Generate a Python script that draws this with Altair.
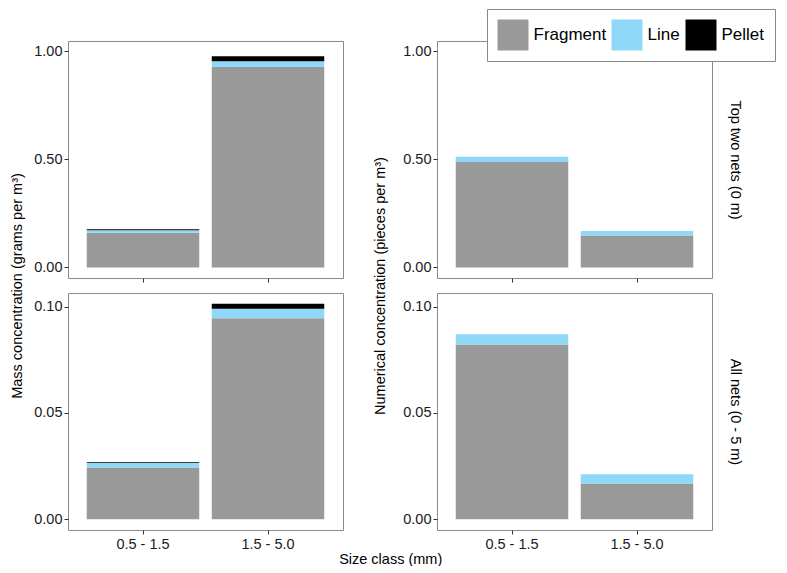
import altair as alt
import pandas as pd

# ---------------- data ----------------
size_classes = ["0.5 - 1.5", "1.5 - 5.0"]
types = ["Fragment", "Line", "Pellet"]
type_colors = ["#999999", "#8FD8FA", "#000000"]

# Mass concentration, top two nets (0 m)
mass_top_fragment = [0.160, 0.927]
mass_top_line = [0.012, 0.026]
mass_top_pellet = [0.005, 0.024]

# Mass concentration, all nets (0 - 5 m)
mass_all_fragment = [0.0243, 0.0946]
mass_all_line = [0.0021, 0.0045]
mass_all_pellet = [0.0004, 0.0023]

# Numerical concentration, top two nets (0 m)
num_top_fragment = [0.488, 0.147]
num_top_line = [0.024, 0.021]
num_top_pellet = [0.0, 0.0]

# Numerical concentration, all nets (0 - 5 m)
num_all_fragment = [0.0822, 0.0168]
num_all_line = [0.0049, 0.0044]
num_all_pellet = [0.0, 0.0]

top_ticks = [0.0, 0.5, 1.0]
bottom_ticks = [0.0, 0.05, 0.10]

row_labels = ["Top two nets (0 m)", "All nets (0 - 5 m)"]
col_titles = ["Mass concentration (grams per m³)",
              "Numerical concentration (pieces per m³)"]
x_title = "Size class (mm)"


def make_df(frag, line, pellet):
    rows = []
    for i, s in enumerate(size_classes):
        for k, (t, vals) in enumerate(zip(types, [frag, line, pellet])):
            rows.append({"size": s, "type": t, "order": k, "value": vals[i]})
    return pd.DataFrame(rows)


W, H = 275, 237
FONT = "Liberation Sans"
FS = 14.5
top_domain = [-0.049, 1.047]
bottom_domain = [-0.0051, 0.1065]

x_scale = alt.Scale(paddingInner=0.1, paddingOuter=0.15)

legend = alt.Legend(
    orient="none", legendX=419, legendY=-32, direction="horizontal",
    title=None, symbolType="square", symbolSize=961, symbolStrokeWidth=0,
    symbolOpacity=1,
    labelFont=FONT, labelFontSize=17, labelColor="#000000", labelOffset=5,
    columnPadding=5, padding=10.5, strokeColor="#888888", fillColor="#ffffff",
)

TITLE_STYLE = dict(titleFont=FONT, titleFontSize=FS, titleFontWeight="normal",
                   titleColor="#000000")


def panel(df, domain, ticks, bottom, y_title=None, y_title_x=-53,
          strip=None, xtitle=None):
    y_scale = alt.Scale(domain=domain, nice=False, zero=False)
    x_axis_kw = dict(labels=bottom, labelAngle=0, ticks=True, tickSize=4,
                     labelPadding=3, domain=False)
    if xtitle:
        x_axis_kw.update(title=xtitle, titleX=W + 47.2, titleY=29,
                         titleAlign="center", titleBaseline="middle",
                         **TITLE_STYLE)
    else:
        x_axis_kw.update(title=None)
    y_axis_kw = dict(values=ticks, format=".2f")
    if y_title:
        y_axis_kw.update(title=y_title, titleX=y_title_x, titleY=H + 7.5,
                         titleAngle=270, titleAlign="center",
                         titleBaseline="middle", **TITLE_STYLE)
    else:
        y_axis_kw.update(title=None)
    bars = alt.Chart(df).mark_bar().encode(
        x=alt.X("size:N", sort=size_classes, scale=x_scale,
                axis=alt.Axis(**x_axis_kw)),
        y=alt.Y("value:Q", stack="zero", scale=y_scale,
                axis=alt.Axis(**y_axis_kw)),
        color=alt.Color("type:N", scale=alt.Scale(domain=types, range=type_colors),
                        legend=legend),
        order=alt.Order("order:Q", sort="ascending"),
    )
    if strip is None:
        return bars.properties(width=W, height=H)
    side = alt.Chart(df).mark_bar(opacity=0).encode(
        x=alt.X("size:N", sort=size_classes, scale=x_scale,
                axis=alt.Axis(**x_axis_kw)),
        y=alt.Y("value:Q", scale=y_scale,
                axis=alt.Axis(orient="right", labels=False, ticks=False,
                              domain=False, title=strip, titleAngle=90,
                              titleX=22.3, titleY=H / 2, titleAlign="center",
                              titleBaseline="middle", **TITLE_STYLE)),
    )
    return alt.layer(bars, side).resolve_axis(y="independent").properties(width=W, height=H)


tl = panel(make_df(mass_top_fragment, mass_top_line, mass_top_pellet),
           top_domain, top_ticks, False, y_title=col_titles[0], y_title_x=-51)
tr = panel(make_df(num_top_fragment, num_top_line, num_top_pellet),
           top_domain, top_ticks, False, y_title=col_titles[1], y_title_x=-57,
           strip=row_labels[0])
bl = panel(make_df(mass_all_fragment, mass_all_line, mass_all_pellet),
           bottom_domain, bottom_ticks, True, xtitle=x_title)
br = panel(make_df(num_all_fragment, num_all_line, num_all_pellet),
           bottom_domain, bottom_ticks, True, strip=row_labels[1])

chart = alt.concat(
    tl, tr, bl, br, columns=2,
    spacing={"row": 15, "column": 94}, bounds="flush",
).properties(
    padding=0,
).configure_view(
    stroke="#8a8a8a", strokeWidth=1,
).configure_axis(
    grid=False, domain=False,
    labelFont=FONT, labelFontSize=FS, labelColor="#1a1a1a",
    tickColor="#333333", tickSize=4, tickWidth=1, labelPadding=2,
)

chart.save("out.html", embed_options={"renderer": "svg", "actions": False})
